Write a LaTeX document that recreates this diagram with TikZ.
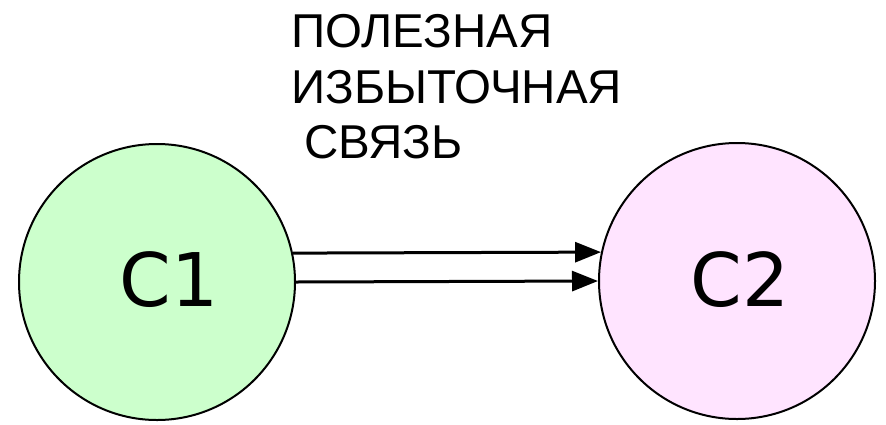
\documentclass[tikz,border=0pt]{standalone}
\usepackage{fontspec}
\setmainfont{Liberation Sans}
\newfontfamily\circfont{DejaVu Sans}
\usetikzlibrary{arrows.meta}
\definecolor{cOneFill}{RGB}{204,255,204}
\definecolor{cTwoFill}{RGB}{255,228,255}
\tikzset{
  state/.style={circle, draw=black, line width=2pt, inner sep=0pt, minimum size=276pt},
  statelabel/.style={font=\circfont\fontsize{74}{80}\selectfont, inner sep=0pt},
  caption/.style={anchor=base west, inner sep=0pt, font=\fontsize{47.5}{56}\selectfont},
  link/.style={line width=3pt, -{Triangle[length=26pt,width=20pt]}}
}
\begin{document}
\begin{tikzpicture}[x=1pt,y=-1pt]
  \useasboundingbox (0,0) rectangle (886,424);
  % the two states
  \node[state, fill=cOneFill] (c1) at (157,282) {};
  \node[state, fill=cTwoFill] (c2) at (737,281) {};
  \node[statelabel] (l1) at (169,280) {C1};
  \node[statelabel] (l2) at (740,280) {C2};
  % caption above the links
  \node[caption] (t1) at (291,47) {ПОЛЕЗНАЯ};
  \node[caption] (t2) at (291,103) {ИЗБЫТОЧНАЯ};
  \node[caption] (t3) at (291,158) {\hspace*{13pt}СВЯЗЬ};
  % the two parallel links
  \draw[link] (c1.12) -- (c2.168);
  \draw[link] (c1.east) -- (c2.west);
\end{tikzpicture}
\end{document}
